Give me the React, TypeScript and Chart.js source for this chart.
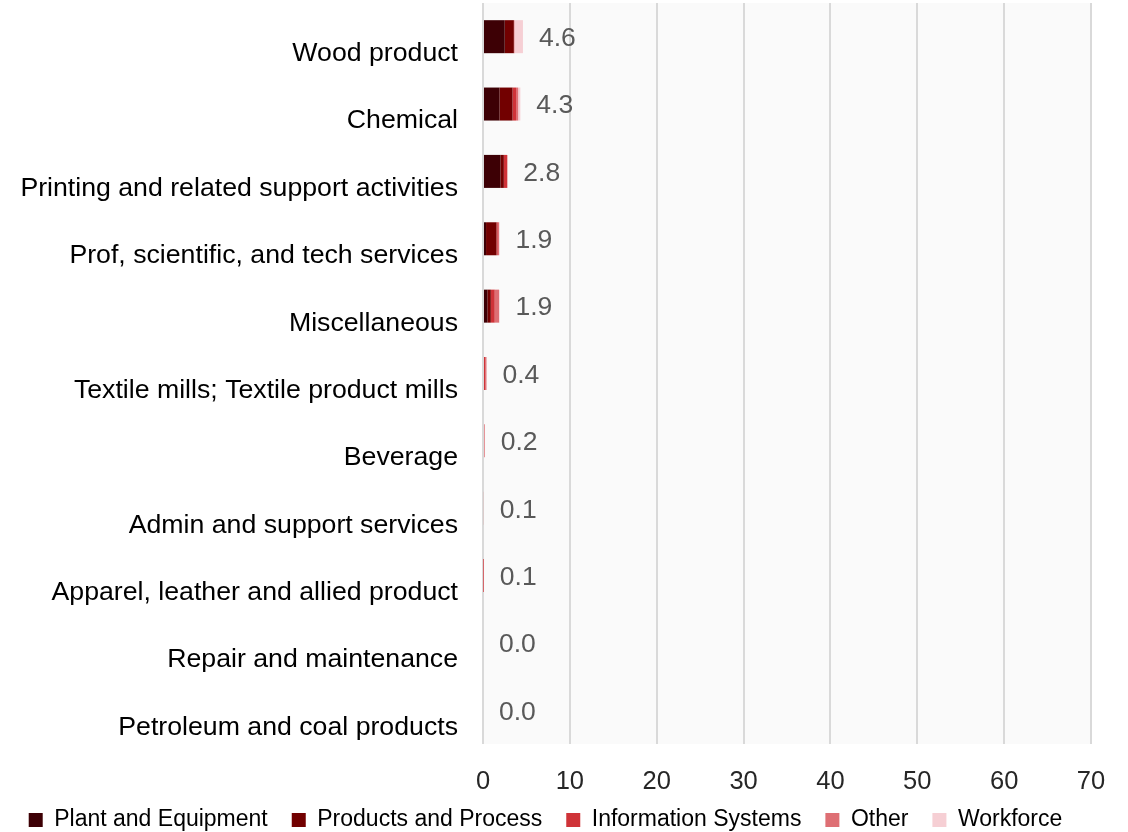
import React, { useEffect, useRef } from "react";
import { Chart, registerables } from "chart.js";

Chart.register(...registerables);

const categories = [
  "Wood product",
  "Chemical",
  "Printing and related support activities",
  "Prof, scientific, and tech services",
  "Miscellaneous",
  "Textile mills; Textile product mills",
  "Beverage",
  "Admin and support services",
  "Apparel, leather and allied product",
  "Repair and maintenance",
  "Petroleum and coal products",
];

const plantEquipment = [2.5, 1.9, 2.0, 0.35, 0.5, 0, 0, 0, 0, 0, 0];
const productsProcess = [1.05, 1.5, 0.4, 1.2, 0.4, 0, 0, 0, 0, 0, 0];
const informationSystems = [0.05, 0.4, 0.4, 0.15, 0.45, 0.25, 0, 0, 0.05, 0, 0];
const other = [0, 0.25, 0, 0.15, 0.5, 0.15, 0.2, 0.1, 0.05, 0, 0];
const workforce = [1.0, 0.25, 0, 0.05, 0.05, 0, 0, 0, 0, 0, 0];

const totalLabels = ["4.6", "4.3", "2.8", "1.9", "1.9", "0.4", "0.2", "0.1", "0.1", "0.0", "0.0"];

const xTicks = [0, 10, 20, 30, 40, 50, 60, 70];

const seriesNames = ["Plant and Equipment", "Products and Process", "Information Systems", "Other", "Workforce"];
const seriesColors = ["#3d0005", "#720000", "#cf3338", "#de6f74", "#f6cfd4"];

const FONT = "'Liberation Sans', Arial, sans-serif";

export default function App() {
  const ref = useRef<HTMLCanvasElement | null>(null);

  useEffect(() => {
    document.body.style.margin = "0";
    const seriesData = [plantEquipment, productsProcess, informationSystems, other, workforce];
    const totals = categories.map((_, i) => seriesData.reduce((s, arr) => s + arr[i], 0));

    const bgPlugin = {
      id: "plotBg",
      beforeDraw(chart: any) {
        const { ctx, chartArea } = chart;
        ctx.save();
        ctx.fillStyle = "#fafafa";
        ctx.fillRect(chartArea.left, chartArea.top, chartArea.right - chartArea.left, chartArea.bottom - chartArea.top);
        ctx.restore();
      },
    };

    const totalsPlugin = {
      id: "totals",
      afterDatasetsDraw(chart: any) {
        const { ctx, scales } = chart;
        ctx.save();
        ctx.fillStyle = "#595959";
        ctx.font = "26.5px " + FONT;
        ctx.textAlign = "left";
        ctx.textBaseline = "middle";
        totals.forEach((t, i) => {
          const x = scales.x.getPixelForValue(t) + 16;
          const y = scales.y.getPixelForValue(i) + 2;
          ctx.fillText(totalLabels[i], x, y);
        });
        ctx.restore();
      },
    };

    const chart = new Chart(ref.current as HTMLCanvasElement, {
      type: "bar",
      data: {
        labels: categories,
        datasets: seriesNames.map((name, k) => ({
          label: name,
          data: seriesData[k],
          backgroundColor: seriesColors[k],
          borderWidth: 0,
          barPercentage: 0.49,
          categoryPercentage: 1,
        })),
      },
      options: {
        indexAxis: "y",
        animation: false,
        responsive: true,
        maintainAspectRatio: false,
        layout: { padding: { top: 3, right: 37, left: 0, bottom: -9.5 } },
        scales: {
          x: {
            stacked: true,
            min: 0,
            max: 70,
            afterBuildTicks(scale: any) {
              scale.ticks = xTicks.map((v) => ({ value: v }));
            },
            afterFit(scale: any) {
              scale.height = 40.5;
            },
            grid: { color: "#d9d9d9", lineWidth: 2, drawTicks: false },
            border: { display: false },
            ticks: {
              mirror: true,
              padding: -53,
              color: "#262626",
              font: { size: 25.5, family: FONT },
            },
          },
          y: {
            stacked: true,
            afterFit(scale: any) {
              scale.width = 483;
              scale.paddingTop = 0;
              scale.paddingBottom = 0;
            },
            grid: { display: false, drawTicks: false },
            border: { display: false },
            ticks: {
              padding: 25,
              labelOffset: 17,
              color: "#000000",
              font: { size: 26.7, family: FONT },
            },
          },
        },
        plugins: {
          legend: {
            position: "bottom",
            labels: {
              boxWidth: 14,
              boxHeight: 14,
              padding: 24,
              color: "#000000",
              font: { size: 23, family: FONT },
            },
          },
          tooltip: { enabled: false },
        },
      } as any,
      plugins: [bgPlugin, totalsPlugin],
    });
    return () => chart.destroy();
  }, []);

  return (
    <div style={{ position: "absolute", left: 0, top: 0, width: 1128, height: 832 }}>
      <canvas ref={ref} />
    </div>
  );
}
